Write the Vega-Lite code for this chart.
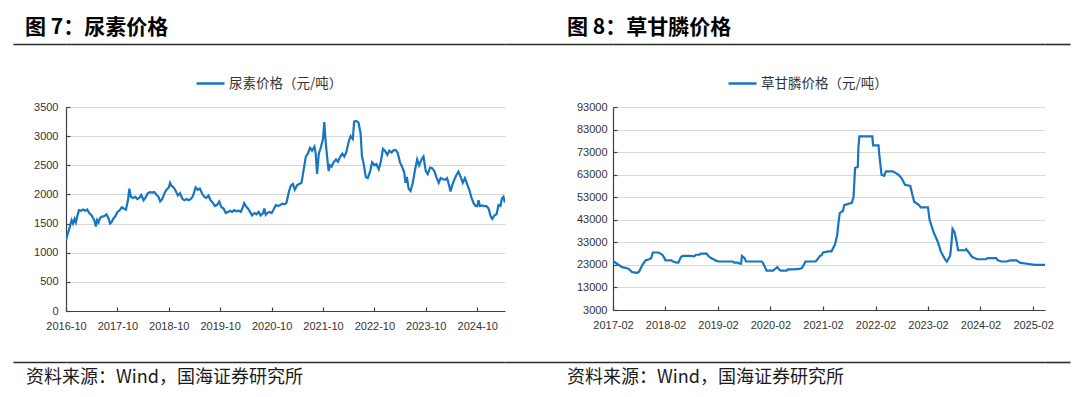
{
  "$schema": "https://vega.github.io/schema/vega-lite/v6.json",
  "background": "white",
  "padding": {"left": 13, "top": 17, "right": 10, "bottom": 12},
  "config": {
    "view": {"stroke": null},
    "font": "Liberation Sans",
    "axis": {
      "labelFont": "Liberation Sans",
      "labelFontSize": 11,
      "labelColor": "#333333",
      "domainColor": "#404040",
      "domainWidth": 1.2,
      "tickColor": "#404040",
      "tickWidth": 1.2,
      "gridColor": "#d9d9d9",
      "gridWidth": 1,
      "title": null
    },
    "legend": {
      "orient": "none",
      "title": null,
      "padding": 0,
      "symbolType": "stroke",
      "symbolSize": 784,
      "symbolStrokeWidth": 2.5,
      "labelFont": "Noto Sans CJK SC",
      "labelFontSize": 13.5,
      "labelColor": "#333333",
      "labelOffset": 3
    }
  },
  "datasets": {
    "empty": [],
    "one": [{"a": 0}],
    "urea": [
      {"d":"2016-10-01","v":1220},{"d":"2016-10-10","v":1300},{"d":"2016-10-20","v":1380},{"d":"2016-11-01","v":1480},{"d":"2016-11-10","v":1560},{"d":"2016-11-20","v":1500},{"d":"2016-12-01","v":1580},{"d":"2016-12-10","v":1520},{"d":"2016-12-20","v":1620},
      {"d":"2017-01-01","v":1730},{"d":"2017-01-15","v":1720},{"d":"2017-02-01","v":1740},{"d":"2017-02-15","v":1720},{"d":"2017-03-01","v":1740},{"d":"2017-03-15","v":1680},{"d":"2017-04-01","v":1640},{"d":"2017-04-10","v":1600},{"d":"2017-04-20","v":1560},{"d":"2017-05-01","v":1450},{"d":"2017-05-10","v":1560},{"d":"2017-05-20","v":1520},{"d":"2017-06-01","v":1600},{"d":"2017-06-15","v":1620},{"d":"2017-07-01","v":1630},{"d":"2017-07-15","v":1660},{"d":"2017-08-01","v":1580},{"d":"2017-08-10","v":1500},{"d":"2017-08-20","v":1520},{"d":"2017-09-01","v":1580},{"d":"2017-09-15","v":1620},{"d":"2017-10-01","v":1700},{"d":"2017-10-15","v":1720},{"d":"2017-11-01","v":1780},{"d":"2017-11-15","v":1760},{"d":"2017-12-01","v":1740},{"d":"2017-12-15","v":1900},{"d":"2017-12-25","v":2100},
      {"d":"2018-01-05","v":1960},{"d":"2018-01-20","v":1940},{"d":"2018-02-05","v":1960},{"d":"2018-02-20","v":1920},{"d":"2018-03-05","v":1940},{"d":"2018-03-20","v":1990},{"d":"2018-04-05","v":1900},{"d":"2018-04-20","v":1950},{"d":"2018-05-05","v":2020},{"d":"2018-05-20","v":2040},{"d":"2018-06-05","v":2030},{"d":"2018-06-20","v":2040},{"d":"2018-07-05","v":2000},{"d":"2018-07-20","v":1960},{"d":"2018-08-01","v":1880},{"d":"2018-08-15","v":1920},{"d":"2018-09-01","v":2020},{"d":"2018-09-15","v":2080},{"d":"2018-10-01","v":2120},{"d":"2018-10-10","v":2200},{"d":"2018-10-20","v":2150},{"d":"2018-11-05","v":2120},{"d":"2018-11-20","v":2060},{"d":"2018-12-05","v":1980},{"d":"2018-12-20","v":2020},
      {"d":"2019-01-05","v":1930},{"d":"2019-01-20","v":1900},{"d":"2019-02-05","v":1920},{"d":"2019-02-20","v":1900},{"d":"2019-03-05","v":1920},{"d":"2019-03-20","v":1960},{"d":"2019-04-01","v":2050},{"d":"2019-04-10","v":2120},{"d":"2019-04-25","v":2080},{"d":"2019-05-10","v":2100},{"d":"2019-05-25","v":2020},{"d":"2019-06-10","v":1960},{"d":"2019-06-25","v":1940},{"d":"2019-07-10","v":1980},{"d":"2019-07-25","v":1900},{"d":"2019-08-10","v":1860},{"d":"2019-08-25","v":1800},{"d":"2019-09-10","v":1820},{"d":"2019-09-25","v":1880},{"d":"2019-10-10","v":1780},{"d":"2019-10-25","v":1760},{"d":"2019-11-10","v":1680},{"d":"2019-11-25","v":1700},{"d":"2019-12-10","v":1720},{"d":"2019-12-25","v":1700},
      {"d":"2020-01-10","v":1730},{"d":"2020-01-25","v":1710},{"d":"2020-02-10","v":1720},{"d":"2020-02-25","v":1700},{"d":"2020-03-10","v":1780},{"d":"2020-03-20","v":1850},{"d":"2020-04-01","v":1800},{"d":"2020-04-15","v":1760},{"d":"2020-05-01","v":1700},{"d":"2020-05-15","v":1640},{"d":"2020-06-01","v":1680},{"d":"2020-06-15","v":1660},{"d":"2020-07-01","v":1700},{"d":"2020-07-15","v":1640},{"d":"2020-08-01","v":1680},{"d":"2020-08-10","v":1760},{"d":"2020-08-20","v":1650},{"d":"2020-09-01","v":1680},{"d":"2020-09-15","v":1700},{"d":"2020-10-01","v":1680},{"d":"2020-10-15","v":1740},{"d":"2020-11-01","v":1820},{"d":"2020-11-15","v":1800},{"d":"2020-12-01","v":1820},{"d":"2020-12-15","v":1840},
      {"d":"2021-01-01","v":1830},{"d":"2021-01-15","v":1860},{"d":"2021-02-01","v":2050},{"d":"2021-02-15","v":2150},{"d":"2021-03-01","v":2180},{"d":"2021-03-15","v":2080},{"d":"2021-04-01","v":2160},{"d":"2021-04-15","v":2180},{"d":"2021-05-01","v":2200},{"d":"2021-05-15","v":2400},{"d":"2021-06-01","v":2650},{"d":"2021-06-15","v":2700},{"d":"2021-07-01","v":2800},{"d":"2021-07-15","v":2750},{"d":"2021-08-01","v":2820},{"d":"2021-08-10","v":2700},{"d":"2021-08-20","v":2350},{"d":"2021-09-01","v":2700},{"d":"2021-09-15","v":2800},{"d":"2021-10-01","v":2950},{"d":"2021-10-10","v":3240},{"d":"2021-10-20","v":2900},{"d":"2021-11-01","v":2600},{"d":"2021-11-10","v":2400},{"d":"2021-11-20","v":2500},{"d":"2021-12-01","v":2480},{"d":"2021-12-15","v":2550},
      {"d":"2022-01-01","v":2600},{"d":"2022-01-15","v":2560},{"d":"2022-02-01","v":2650},{"d":"2022-02-15","v":2700},{"d":"2022-03-01","v":2650},{"d":"2022-03-15","v":2720},{"d":"2022-04-01","v":2900},{"d":"2022-04-15","v":3000},{"d":"2022-05-01","v":2950},{"d":"2022-05-10","v":3250},{"d":"2022-05-25","v":3260},{"d":"2022-06-10","v":3230},{"d":"2022-06-25","v":3050},{"d":"2022-07-05","v":2650},{"d":"2022-07-15","v":2550},{"d":"2022-08-01","v":2300},{"d":"2022-08-15","v":2280},{"d":"2022-09-01","v":2400},{"d":"2022-09-15","v":2550},{"d":"2022-10-01","v":2500},{"d":"2022-10-15","v":2520},{"d":"2022-11-01","v":2430},{"d":"2022-11-15","v":2550},{"d":"2022-12-01","v":2780},{"d":"2022-12-15","v":2750},
      {"d":"2023-01-01","v":2680},{"d":"2023-01-15","v":2750},{"d":"2023-02-01","v":2720},{"d":"2023-02-15","v":2760},{"d":"2023-03-01","v":2760},{"d":"2023-03-15","v":2720},{"d":"2023-04-01","v":2550},{"d":"2023-04-15","v":2480},{"d":"2023-05-01","v":2380},{"d":"2023-05-10","v":2200},{"d":"2023-05-20","v":2300},{"d":"2023-06-01","v":2100},{"d":"2023-06-15","v":2060},{"d":"2023-07-01","v":2200},{"d":"2023-07-15","v":2400},{"d":"2023-08-01","v":2600},{"d":"2023-08-15","v":2500},{"d":"2023-09-01","v":2600},{"d":"2023-09-15","v":2650},{"d":"2023-10-01","v":2400},{"d":"2023-10-15","v":2350},{"d":"2023-11-01","v":2460},{"d":"2023-11-15","v":2450},{"d":"2023-12-01","v":2400},{"d":"2023-12-15","v":2300},
      {"d":"2024-01-01","v":2200},{"d":"2024-01-15","v":2280},{"d":"2024-02-01","v":2260},{"d":"2024-02-15","v":2250},{"d":"2024-03-01","v":2280},{"d":"2024-03-15","v":2150},{"d":"2024-03-25","v":2050},{"d":"2024-04-05","v":2150},{"d":"2024-04-20","v":2250},{"d":"2024-05-05","v":2330},{"d":"2024-05-20","v":2390},{"d":"2024-06-05","v":2300},{"d":"2024-06-20","v":2200},{"d":"2024-07-05","v":2280},{"d":"2024-07-20","v":2180},{"d":"2024-08-05","v":2080},{"d":"2024-08-20","v":1950},{"d":"2024-09-05","v":1850},{"d":"2024-09-20","v":1800},{"d":"2024-10-01","v":1800},{"d":"2024-10-10","v":1900},{"d":"2024-10-20","v":1800},{"d":"2024-11-05","v":1810},{"d":"2024-11-20","v":1800},{"d":"2024-12-05","v":1800},{"d":"2024-12-20","v":1760},
      {"d":"2025-01-05","v":1620},{"d":"2025-01-15","v":1580},{"d":"2025-02-01","v":1640},{"d":"2025-02-15","v":1660},{"d":"2025-03-01","v":1820},{"d":"2025-03-15","v":1800},{"d":"2025-03-25","v":1930},{"d":"2025-04-05","v":1960},{"d":"2025-04-15","v":1860}
    ],
    "gly": [
      {"d":"2017-02-01","v":24800},{"d":"2017-03-01","v":23500},{"d":"2017-04-05","v":22000},{"d":"2017-05-10","v":21500},{"d":"2017-05-25","v":21000},{"d":"2017-06-15","v":19800},{"d":"2017-07-20","v":19500},{"d":"2017-08-01","v":20000},{"d":"2017-08-25","v":23000},{"d":"2017-09-15","v":25000},{"d":"2017-10-10","v":25500},{"d":"2017-10-25","v":26000},{"d":"2017-11-05","v":28500},{"d":"2017-12-15","v":28500},{"d":"2017-12-28","v":28000},
      {"d":"2018-01-10","v":27500},{"d":"2018-01-25","v":26000},{"d":"2018-02-01","v":25000},{"d":"2018-03-15","v":25000},{"d":"2018-03-25","v":24500},{"d":"2018-04-20","v":24000},{"d":"2018-05-01","v":24000},{"d":"2018-05-20","v":26500},{"d":"2018-06-01","v":27000},{"d":"2018-07-25","v":27000},{"d":"2018-08-20","v":26800},{"d":"2018-09-01","v":27500},{"d":"2018-09-25","v":27500},{"d":"2018-10-05","v":28000},{"d":"2018-11-15","v":28000},{"d":"2018-11-25","v":27000},{"d":"2018-12-15","v":26000},
      {"d":"2019-01-01","v":25500},{"d":"2019-01-15","v":25000},{"d":"2019-02-05","v":24500},{"d":"2019-05-15","v":24500},{"d":"2019-05-25","v":24000},{"d":"2019-06-20","v":24000},{"d":"2019-07-01","v":23500},{"d":"2019-07-12","v":23500},{"d":"2019-07-18","v":27000},{"d":"2019-08-05","v":26000},{"d":"2019-08-15","v":24500},{"d":"2019-12-01","v":24500},{"d":"2019-12-10","v":24000},{"d":"2019-12-25","v":22000},
      {"d":"2020-01-05","v":20500},{"d":"2020-02-20","v":20500},{"d":"2020-03-10","v":21500},{"d":"2020-03-20","v":22000},{"d":"2020-04-01","v":21000},{"d":"2020-04-12","v":20500},{"d":"2020-05-25","v":20500},{"d":"2020-06-01","v":21000},{"d":"2020-07-15","v":21000},{"d":"2020-08-20","v":21200},{"d":"2020-09-05","v":21500},{"d":"2020-09-20","v":23000},{"d":"2020-10-01","v":24500},{"d":"2020-12-10","v":24500},{"d":"2020-12-25","v":25500},
      {"d":"2021-01-10","v":27000},{"d":"2021-01-22","v":27200},{"d":"2021-02-01","v":28500},{"d":"2021-03-10","v":29000},{"d":"2021-04-01","v":29000},{"d":"2021-04-25","v":32000},{"d":"2021-05-10","v":36000},{"d":"2021-05-20","v":42000},{"d":"2021-05-28","v":46000},{"d":"2021-06-20","v":47000},{"d":"2021-06-28","v":49500},{"d":"2021-08-20","v":50500},{"d":"2021-09-01","v":53000},{"d":"2021-09-12","v":66000},{"d":"2021-10-01","v":66500},{"d":"2021-10-05","v":75000},{"d":"2021-10-12","v":80000},
      {"d":"2022-01-10","v":80000},{"d":"2022-01-15","v":76000},{"d":"2022-02-22","v":76000},{"d":"2022-02-27","v":72000},{"d":"2022-03-15","v":63000},{"d":"2022-04-02","v":62500},{"d":"2022-04-15","v":64500},{"d":"2022-06-01","v":64500},{"d":"2022-07-10","v":63000},{"d":"2022-08-01","v":61500},{"d":"2022-08-25","v":58500},{"d":"2022-10-01","v":58000},{"d":"2022-10-12","v":55000},{"d":"2022-10-28","v":51000},{"d":"2022-12-01","v":49500},{"d":"2022-12-12","v":48500},
      {"d":"2023-02-01","v":48500},{"d":"2023-02-12","v":43000},{"d":"2023-03-15","v":37000},{"d":"2023-04-12","v":33000},{"d":"2023-05-01","v":29000},{"d":"2023-05-30","v":25500},{"d":"2023-06-12","v":24500},{"d":"2023-07-05","v":27000},{"d":"2023-07-12","v":31000},{"d":"2023-07-22","v":39000},{"d":"2023-08-05","v":37500},{"d":"2023-08-20","v":33000},{"d":"2023-08-29","v":29500},{"d":"2023-10-20","v":29500},{"d":"2023-10-25","v":30000},{"d":"2023-11-12","v":28500},{"d":"2023-12-05","v":26500},
      {"d":"2024-01-10","v":25500},{"d":"2024-03-10","v":25500},{"d":"2024-03-22","v":26000},{"d":"2024-05-20","v":26000},{"d":"2024-06-01","v":25000},{"d":"2024-06-25","v":24500},{"d":"2024-08-01","v":24500},{"d":"2024-08-25","v":25000},{"d":"2024-10-10","v":25000},{"d":"2024-11-01","v":24000},{"d":"2024-12-20","v":23500},{"d":"2025-02-15","v":23000},{"d":"2025-04-25","v":23000}
    ]
  },
  "bounds": "flush",
  "align": "each",
  "columns": 5,
  "spacing": {"row": 51, "column": 0},
  "resolve": {"scale": {"color": "independent", "x": "independent", "y": "independent"}, "legend": {"color": "independent"}},
  "concat": [
    {"width": 53, "height": 12, "data": {"name": "one"}, "mark": {"type": "point", "opacity": 0},
     "encoding": {"x": {"field": "a", "type": "quantitative", "axis": {"orient": "top", "labels": false, "ticks": false, "grid": false, "domainColor": "#2b2b2b", "domainWidth": 1.6}}},
     "title": {"text": "图 7：尿素价格", "anchor": "start", "orient": "top", "dx": 12, "offset": 6, "font": "Noto Sans CJK SC", "fontSize": 21, "fontWeight": "bold", "color": "#000000", "limit": 0}},
    {"width": 439, "height": 12, "data": {"name": "one"}, "mark": {"type": "point", "opacity": 0},
     "encoding": {"x": {"field": "a", "type": "quantitative", "axis": {"orient": "top", "labels": false, "ticks": false, "grid": false, "domainColor": "#2b2b2b", "domainWidth": 1.6}}}},
    {"width": 108, "height": 12, "data": {"name": "one"}, "mark": {"type": "point", "opacity": 0},
     "encoding": {"x": {"field": "a", "type": "quantitative", "axis": {"orient": "top", "labels": false, "ticks": false, "grid": false, "domainColor": "#2b2b2b", "domainWidth": 1.6}}},
     "title": {"text": "图 8：草甘膦价格", "anchor": "start", "orient": "top", "dx": 62, "offset": 6, "font": "Noto Sans CJK SC", "fontSize": 21, "fontWeight": "bold", "color": "#000000", "limit": 0}},
    {"width": 432, "height": 12, "data": {"name": "one"}, "mark": {"type": "point", "opacity": 0},
     "encoding": {"x": {"field": "a", "type": "quantitative", "axis": {"orient": "top", "labels": false, "ticks": false, "grid": false, "domainColor": "#2b2b2b", "domainWidth": 1.6}}}},
    {"width": 25, "height": 12, "data": {"name": "one"}, "mark": {"type": "point", "opacity": 0},
     "encoding": {"x": {"field": "a", "type": "quantitative", "axis": {"orient": "top", "labels": false, "ticks": false, "grid": false, "domainColor": "#2b2b2b", "domainWidth": 1.6}}}},

    {"width": 53, "height": 204, "data": {"name": "empty"}, "mark": "point"},
    {
      "width": 439, "height": 204,
      "data": {"name": "urea"},
      "mark": {"type": "line", "strokeWidth": 2.2, "clip": true},
      "encoding": {
        "x": {"field": "d", "type": "temporal",
          "scale": {"domain": [{"year": 2016, "month": 10, "date": 1}, {"year": 2025, "month": 4, "date": 16}]},
          "axis": {"values": [{"year":2016,"month":10,"date":1},{"year":2017,"month":10,"date":1},{"year":2018,"month":10,"date":1},{"year":2019,"month":10,"date":1},{"year":2020,"month":10,"date":1},{"year":2021,"month":10,"date":1},{"year":2022,"month":10,"date":1},{"year":2023,"month":10,"date":1},{"year":2024,"month":10,"date":1}],
            "format": "%Y-%m", "grid": false, "tickSize": -4, "labelPadding": 13, "labelFlush": false}},
        "y": {"field": "v", "type": "quantitative",
          "scale": {"domain": [0, 3500], "nice": false, "zero": false},
          "axis": {"values": [0,500,1000,1500,2000,2500,3000,3500], "format": "d", "grid": true, "tickSize": -4, "labelPadding": 12}},
        "color": {"datum": "尿素价格（元/吨）", "type": "nominal", "scale": {"range": ["#1775c1"]},
          "legend": {"legendX": 129, "legendY": -39}}
      }
    },
    {"width": 108, "height": 204, "data": {"name": "empty"}, "mark": "point"},
    {
      "width": 432, "height": 203,
      "data": {"name": "gly"},
      "mark": {"type": "line", "strokeWidth": 2.2, "clip": true},
      "encoding": {
        "x": {"field": "d", "type": "temporal",
          "scale": {"domain": [{"year": 2017, "month": 2, "date": 1}, {"year": 2025, "month": 4, "date": 25}]},
          "axis": {"values": [{"year":2017,"month":2,"date":1},{"year":2018,"month":2,"date":1},{"year":2019,"month":2,"date":1},{"year":2020,"month":2,"date":1},{"year":2021,"month":2,"date":1},{"year":2022,"month":2,"date":1},{"year":2023,"month":2,"date":1},{"year":2024,"month":2,"date":1},{"year":2025,"month":2,"date":1}],
            "format": "%Y-%m", "grid": false, "tickSize": -4, "labelPadding": 13, "labelFlush": false}},
        "y": {"field": "v", "type": "quantitative",
          "scale": {"domain": [3000, 93000], "nice": false, "zero": false},
          "axis": {"values": [3000,13000,23000,33000,43000,53000,63000,73000,83000,93000], "format": "d", "grid": true, "tickSize": -4, "labelPadding": 10}},
        "color": {"datum": "草甘膦价格（元/吨）", "type": "nominal", "scale": {"range": ["#1775c1"]},
          "legend": {"legendX": 114, "legendY": -39}}
      }
    },
    {"width": 25, "height": 204, "data": {"name": "empty"}, "mark": "point"},

    {"width": 53, "height": 1, "data": {"name": "one"}, "mark": {"type": "point", "opacity": 0},
     "encoding": {"x": {"field": "a", "type": "quantitative", "axis": {"orient": "top", "labels": false, "ticks": false, "grid": false, "domainColor": "#2b2b2b", "domainWidth": 1.6}}},
     "title": {"text": "资料来源：Wind，国海证券研究所", "anchor": "start", "orient": "bottom", "dx": 13, "offset": 4, "font": "Noto Sans CJK SC", "fontSize": 18, "fontWeight": "normal", "color": "#1a1a1a", "limit": 0}},
    {"width": 439, "height": 1, "data": {"name": "one"}, "mark": {"type": "point", "opacity": 0},
     "encoding": {"x": {"field": "a", "type": "quantitative", "axis": {"orient": "top", "labels": false, "ticks": false, "grid": false, "domainColor": "#2b2b2b", "domainWidth": 1.6}}}},
    {"width": 108, "height": 1, "data": {"name": "one"}, "mark": {"type": "point", "opacity": 0},
     "encoding": {"x": {"field": "a", "type": "quantitative", "axis": {"orient": "top", "labels": false, "ticks": false, "grid": false, "domainColor": "#2b2b2b", "domainWidth": 1.6}}},
     "title": {"text": "资料来源：Wind，国海证券研究所", "anchor": "start", "orient": "bottom", "dx": 62, "offset": 4, "font": "Noto Sans CJK SC", "fontSize": 18, "fontWeight": "normal", "color": "#1a1a1a", "limit": 0}},
    {"width": 432, "height": 1, "data": {"name": "one"}, "mark": {"type": "point", "opacity": 0},
     "encoding": {"x": {"field": "a", "type": "quantitative", "axis": {"orient": "top", "labels": false, "ticks": false, "grid": false, "domainColor": "#2b2b2b", "domainWidth": 1.6}}}},
    {"width": 25, "height": 1, "data": {"name": "one"}, "mark": {"type": "point", "opacity": 0},
     "encoding": {"x": {"field": "a", "type": "quantitative", "axis": {"orient": "top", "labels": false, "ticks": false, "grid": false, "domainColor": "#2b2b2b", "domainWidth": 1.6}}}}
  ]
}
